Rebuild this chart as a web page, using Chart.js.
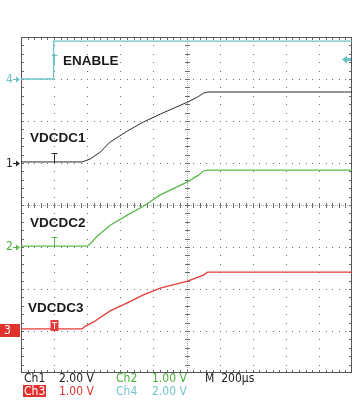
<!DOCTYPE html>
<html>
<head>
<meta charset="utf-8">
<script src="https://cdn.jsdelivr.net/npm/chart.js@4/dist/chart.umd.min.js"></script>
<style>
  body { margin: 0; background: #fff; }
  #wrap { position: relative; width: 355px; height: 403px; }
  .lbl { position: absolute; font: bold 13.5px "Liberation Sans", Arial, sans-serif; line-height: 1; color: #1a1a1a; white-space: nowrap; }
  .ro { position: absolute; font-family: "DejaVu Sans Condensed", "DejaVu Sans", sans-serif; font-stretch: condensed; font-size: 12px; line-height: 1; white-space: nowrap; }
  .mk { position: absolute; font: 12px "DejaVu Sans Condensed", "DejaVu Sans", sans-serif; font-stretch: condensed; line-height: 1; }
</style>
</head>
<body>
<div id="wrap">
  <canvas id="scope"></canvas>

  <div class="lbl" style="left:63px;top:54px">ENABLE</div>
  <div class="lbl" style="left:30px;top:131px">VDCDC1</div>
  <div class="lbl" style="left:30px;top:216px">VDCDC2</div>
  <div class="lbl" style="left:28px;top:301px">VDCDC3</div>

  <div class="mk" style="left:6px;top:73px;color:#6cc3c6">4</div>
  <div class="mk" style="left:6px;top:157px;color:#222">1</div>
  <div class="mk" style="left:6px;top:240px;color:#4caf3a">2</div>
  <div class="mk" style="left:0;top:324px;width:20px;height:13px;background:#e0322f;"></div>
  <div class="mk" style="left:4px;top:324px;color:#fff">3</div>

  <div class="ro" style="left:24px;top:372px;color:#222">Ch1</div>
  <div class="ro" style="left:59px;top:372px;color:#222">2.00 V</div>
  <div class="ro" style="left:116px;top:372px;color:#4caf3a">Ch2</div>
  <div class="ro" style="left:152px;top:372px;color:#4caf3a">1.00 V</div>
  <div class="ro" style="left:205px;top:372px;color:#222">M&nbsp;&nbsp;200µs</div>
  <div class="ro" style="left:23px;top:385px;color:#fff;background:#e0322f;padding:0 1px">Ch3</div>
  <div class="ro" style="left:59px;top:385px;color:#e0322f">1.00 V</div>
  <div class="ro" style="left:116px;top:385px;color:#72c6c9">Ch4</div>
  <div class="ro" style="left:152px;top:385px;color:#72c6c9">2.00 V</div>
</div>

<script>
// ---- trace data (time in µs, level in volts) ----
const ch1Time  = [0, 370, 418, 479, 539, 642, 739, 842, 1006, 1067, 1103, 1127, 2000];
const ch1Volts = [0.05, 0.05, 0.19, 0.52, 1.00, 1.52, 1.95, 2.33, 2.90, 3.14, 3.33, 3.38, 3.38];

const ch2Time  = [0, 400, 424, 461, 539, 642, 739, 842, 1006, 1073, 1103, 1127, 2000];
const ch2Volts = [0.02, 0.02, 0.10, 0.26, 0.52, 0.76, 0.97, 1.24, 1.55, 1.71, 1.81, 1.83, 1.83];

const ch3Time  = [0, 370, 382, 436, 539, 642, 739, 842, 1006, 1103, 1127, 2000];
const ch3Volts = [0.05, 0.05, 0.10, 0.21, 0.48, 0.67, 0.86, 1.02, 1.19, 1.33, 1.40, 1.40];

const ch4Time  = [0, 195, 197, 2000];
const ch4Volts = [0, 0, 1.8, 1.8];

// scope settings: volts/div and ground position (divisions from bottom)
const voltsPerDiv = { y1: 2, y2: 1, y3: 1, y4: 2 };
const groundDiv   = { y1: 5, y2: 3, y3: 1, y4: 7 };
const timePerDiv = 200;
const triggerTime = 200;
const triggerLevel = 0.95; // Ch4

const colors = { y1: '#2a2a2a', y2: '#5bb84a', y3: '#e63b38', y4: '#6cc3c6' };

const pts = (t, v) => t.map((x, i) => ({ x, y: v[i] }));

const axis = id => ({
  type: 'linear', axis: 'y', display: false,
  min: -groundDiv[id] * voltsPerDiv[id],
  max: (8 - groundDiv[id]) * voltsPerDiv[id],
});

const graticule = {
  id: 'graticule',
  beforeDatasetsDraw(chart) {
    const { ctx, chartArea: a, scales: { x, gy } } = chart;
    const px = v => Math.round(x.getPixelForValue(v));
    const py = v => Math.round(gy.getPixelForValue(v));
    ctx.save();
    // dotted grid
    ctx.fillStyle = '#6e6e6e';
    for (let i = 1; i < 10; i++) {
      if (i === 5) continue;
      for (let j = 1; j < 40; j++) ctx.fillRect(px(i * timePerDiv), py(j * 0.2), 1, 1);
    }
    for (let j = 1; j < 8; j++) {
      if (j === 4) continue;
      for (let i = 1; i < 50; i++) ctx.fillRect(px(i * timePerDiv / 5), py(j), 1, 1);
    }
    // centre cross
    const cx = px(5 * timePerDiv), cy = py(4);
    ctx.fillStyle = '#aaa';
    for (let yy = a.top; yy < a.bottom; yy += 2) ctx.fillRect(cx, yy, 1, 1);
    for (let xx = a.left; xx < a.right; xx += 2) ctx.fillRect(xx, cy, 1, 1);
    ctx.fillStyle = '#6a6a6a';
    for (let j = 1; j < 40; j++) ctx.fillRect(cx - 2, py(j * 0.2), 5, 1);
    for (let i = 1; i < 50; i++) ctx.fillRect(px(i * timePerDiv / 5), cy - 2, 1, 5);
    // frame ticks
    for (let i = 1; i < 50; i++) {
      ctx.fillRect(px(i * timePerDiv / 5), a.top, 1, 3);
      ctx.fillRect(px(i * timePerDiv / 5), a.bottom - 3, 1, 3);
    }
    for (let j = 1; j < 40; j++) {
      ctx.fillRect(a.left, py(j * 0.2), 3, 1);
      ctx.fillRect(a.right - 3, py(j * 0.2), 3, 1);
    }
    ctx.strokeStyle = '#555';
    ctx.lineWidth = 1;
    ctx.strokeRect(a.left + 0.5, a.top + 0.5, a.right - a.left - 1, a.bottom - a.top - 1);
    ctx.restore();
  },
  afterDatasetsDraw(chart) {
    const { ctx, chartArea: a, scales } = chart;
    const tx = Math.round(scales.x.getPixelForValue(triggerTime)) + 0.5;
    ctx.save();
    // ground arrows at the left edge
    ['y1', 'y2', 'y3', 'y4'].forEach(id => {
      const gy = Math.round(scales[id].getPixelForValue(0)) + 0.5;
      ctx.strokeStyle = id === 'y3' ? '#fff' : colors[id];
      ctx.fillStyle = ctx.strokeStyle;
      ctx.lineWidth = 1;
      ctx.beginPath(); ctx.moveTo(13, gy); ctx.lineTo(19, gy); ctx.stroke();
      ctx.beginPath(); ctx.moveTo(20, gy); ctx.lineTo(16, gy - 3); ctx.lineTo(16, gy + 3); ctx.closePath(); ctx.fill();
    });
    // trigger "T" marks
    ['y1', 'y2', 'y4'].forEach(id => {
      const gy = Math.round(scales[id].getPixelForValue(0));
      const top = id === 'y4' ? 55 : gy - 10;
      const bot = id === 'y4' ? 65 : gy;
      ctx.strokeStyle = colors[id];
      ctx.lineWidth = 1;
      ctx.beginPath();
      ctx.moveTo(tx - 3, top + 0.5); ctx.lineTo(tx + 3, top + 0.5);
      ctx.moveTo(tx, top); ctx.lineTo(tx, bot);
      ctx.stroke();
    });
    const g3 = Math.round(scales.y3.getPixelForValue(0));
    ctx.fillStyle = colors.y3;
    ctx.fillRect(tx - 4, g3 - 11, 8, 11);
    ctx.strokeStyle = '#fff';
    ctx.beginPath();
    ctx.moveTo(tx - 2.5, g3 - 8.5); ctx.lineTo(tx + 2.5, g3 - 8.5);
    ctx.moveTo(tx, g3 - 9); ctx.lineTo(tx, g3 - 2);
    ctx.stroke();
    // trigger level arrow (right edge)
    const ly = Math.round(scales.y4.getPixelForValue(triggerLevel)) + 0.5;
    ctx.fillStyle = colors.y4;
    ctx.beginPath();
    ctx.moveTo(a.right - 10, ly); ctx.lineTo(a.right - 5, ly - 4); ctx.lineTo(a.right - 5, ly + 4); ctx.closePath(); ctx.fill();
    ctx.fillRect(a.right - 6, ly - 1.5, 5, 3);
    ctx.restore();
  },
};

const ds = (id, t, v, w) => ({
  data: pts(t, v), yAxisID: id, borderColor: colors[id], borderWidth: w,
  pointRadius: 0, tension: 0, fill: false,
});

new Chart(document.getElementById('scope'), {
  type: 'line',
  data: {
    datasets: [
      ds('y4', ch4Time, ch4Volts, 1.3),
      ds('y1', ch1Time, ch1Volts, 1),
      ds('y2', ch2Time, ch2Volts, 1.3),
      ds('y3', ch3Time, ch3Volts, 1.3),
    ],
  },
  options: {
    responsive: true,
    maintainAspectRatio: false,
    animation: false,
    layout: { padding: { left: 21, top: 37, right: 3, bottom: 30 } },
    plugins: { legend: { display: false }, tooltip: { enabled: false } },
    scales: {
      x: { type: 'linear', display: false, min: 0, max: 10 * timePerDiv },
      y1: axis('y1'), y2: axis('y2'), y3: axis('y3'), y4: axis('y4'),
      gy: { type: 'linear', axis: 'y', display: false, min: 0, max: 8 },
    },
  },
  plugins: [graticule],
});
</script>
</body>
</html>
